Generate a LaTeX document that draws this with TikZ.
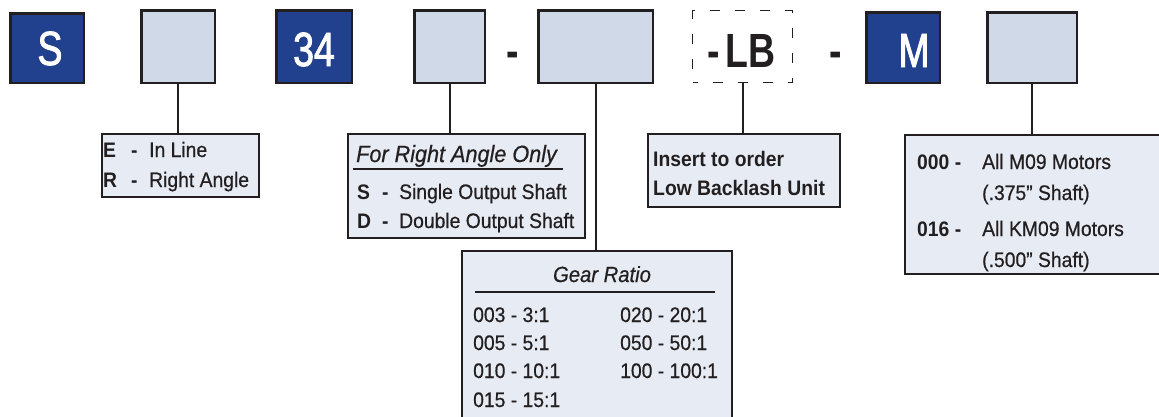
\documentclass[tikz,border=0pt]{standalone}
\usepackage{fontspec}
\setmainfont[FakeStretch=0.92, UprightFeatures={FakeBold=0.6}, ItalicFeatures={FakeBold=0.6}]{Liberation Sans}
\newfontfamily\bigf[FakeStretch=0.78, UprightFeatures={FakeBold=1.8}]{Liberation Sans}
\definecolor{navy}{HTML}{21418E}
\definecolor{pale}{HTML}{D0D9E8}
\definecolor{paler}{HTML}{E7ECF4}
\definecolor{ink}{HTML}{231F20}
\begin{document}
\begin{tikzpicture}[x=1pt,y=-1pt,
  codebox/.style={draw=ink, line width=2.5pt, fill=navy, inner sep=0pt},
  slotbox/.style={draw=ink, line width=2.5pt, fill=pale, inner sep=0pt},
  infobox/.style={draw=ink, line width=2.2pt, fill=paler, inner sep=0pt},
  bigtxt/.style={inner sep=0pt, anchor=base, text=white, font=\bigf\fontsize{48}{48}\selectfont},
  bigdash/.style={inner sep=0pt, anchor=base, text=ink, font=\bigf\bfseries\fontsize{48}{48}\selectfont},
  lbl/.style={inner sep=0pt, anchor=base west, text=ink, font=\fontsize{21}{21}\selectfont},
  blbl/.style={lbl, font=\bfseries\fontsize{21}{21}\selectfont},
  ilbl/.style={lbl, font=\itshape\fontsize{23.5}{23.5}\selectfont},
  conn/.style={draw=ink, line width=2pt},
  rule/.style={draw=ink, line width=2pt},
]
\useasboundingbox (0,0) rectangle (1159,416);
\clip (0,0) rectangle (1159,416);

% top row
\node[codebox, minimum width=73.5pt, minimum height=69.5pt] (bS) at (47,48) {};
\node[bigtxt] (tS) at (50,65) {S};
\node[slotbox, minimum width=73.5pt, minimum height=72.5pt] (b2) at (178,46.5) {};
\node[codebox, minimum width=75.5pt, minimum height=72.5pt] (b34) at (314,46.5) {};
\node[bigtxt] (t34) at (314,66) {34};
\node[slotbox, minimum width=70.5pt, minimum height=72.5pt] (b4) at (449.5,46.5) {};
\node[bigdash] (d1) at (512.5,67) {-};
\node[slotbox, minimum width=114.5pt, minimum height=72.5pt] (b5) at (595.5,46.5) {};
\node[draw=ink, line width=1.6pt, dash pattern=on 10pt off 15pt, dash phase=5pt,
      minimum width=100pt, minimum height=72pt, inner sep=0pt] (bLB) at (742.5,46.5) {};
\node[inner sep=0pt, anchor=base west, text=ink, font=\bigf\bfseries\fontsize{48}{48}\selectfont]
      (tLB) at (707,67) {-\kern6pt LB};
\node[bigdash] (d2) at (836,67) {-};
\node[codebox, minimum width=73.5pt, minimum height=70.5pt] (bM) at (903,47.5) {};
\node[bigtxt] (tM) at (914,67) {M};
\node[slotbox, minimum width=89.5pt, minimum height=70.5pt] (b8) at (1032,47.5) {};

% info boxes
\node[infobox, minimum width=157pt, minimum height=63pt] (er) at (180.5,165.5) {};
\node[infobox, minimum width=237pt, minimum height=104pt] (ra) at (466.5,186) {};
\node[infobox, minimum width=270pt, minimum height=189pt] (gear) at (597,345.5) {};
\node[infobox, minimum width=192pt, minimum height=73pt] (lbinfo) at (744,170.5) {};
\node[infobox, minimum width=275pt, minimum height=139pt] (motor) at (1042.5,204.5) {};

% connectors
\draw[conn] (b2.south) -- (b2.south |- er.north);
\draw[conn] (b4.south) -- (b4.south |- ra.north);
\draw[conn] (b5.south) -- (b5.south |- gear.north);
\draw[conn] (bLB.south) -- (bLB.south |- lbinfo.north);
\draw[conn] (b8.south) -- (b8.south |- motor.north);

% E/R box
\node[blbl] (e1) at (103,157) {E};
\node[blbl] (e2) at (131,157) {-};
\node[lbl] (e3) at (149,157) {In Line};
\node[blbl] (r1) at (103,187) {R};
\node[blbl] (r2) at (131,187) {-};
\node[lbl] (r3) at (149,187) {Right Angle};

% right angle box
\node[ilbl] (ratitle) at (356,162) {For Right Angle Only};
\draw[rule] (353,169) -- (563,169);
\node[blbl] (s1) at (357,199) {S};
\node[blbl] (s2) at (382,199) {-};
\node[lbl] (s3) at (399,199) {Single Output Shaft};
\node[blbl] (dd1) at (357,228) {D};
\node[blbl] (dd2) at (382,228) {-};
\node[lbl] (dd3) at (399,228) {Double Output Shaft};

% gear ratio box
\node[ilbl, anchor=base, font=\itshape\fontsize{22}{22}\selectfont] (gtitle) at (602,282) {Gear Ratio};
\draw[rule] (475,292) -- (715,292);
\node[lbl] (g1) at (473,322) {003 - 3:1};
\node[lbl] (g2) at (473,350) {005 - 5:1};
\node[lbl] (g3) at (473,378) {010 - 10:1};
\node[lbl] (g4) at (473,407) {015 - 15:1};
\node[lbl] (g5) at (620,322) {020 - 20:1};
\node[lbl] (g6) at (620,350) {050 - 50:1};
\node[lbl] (g7) at (620,378) {100 - 100:1};

% low backlash box
\node[blbl] (lb1) at (653,166) {Insert to order};
\node[blbl] (lb2) at (653,195) {Low Backlash Unit};

% motor box
\node[blbl] (m1) at (917,169) {000 -};
\node[lbl] (m2) at (982,169) {All M09 Motors};
\node[lbl] (m3) at (982,200) {(.375” Shaft)};
\node[blbl] (m4) at (917,236) {016 -};
\node[lbl] (m5) at (982,236) {All KM09 Motors};
\node[lbl] (m6) at (982,267) {(.500” Shaft)};
\end{tikzpicture}
\end{document}
